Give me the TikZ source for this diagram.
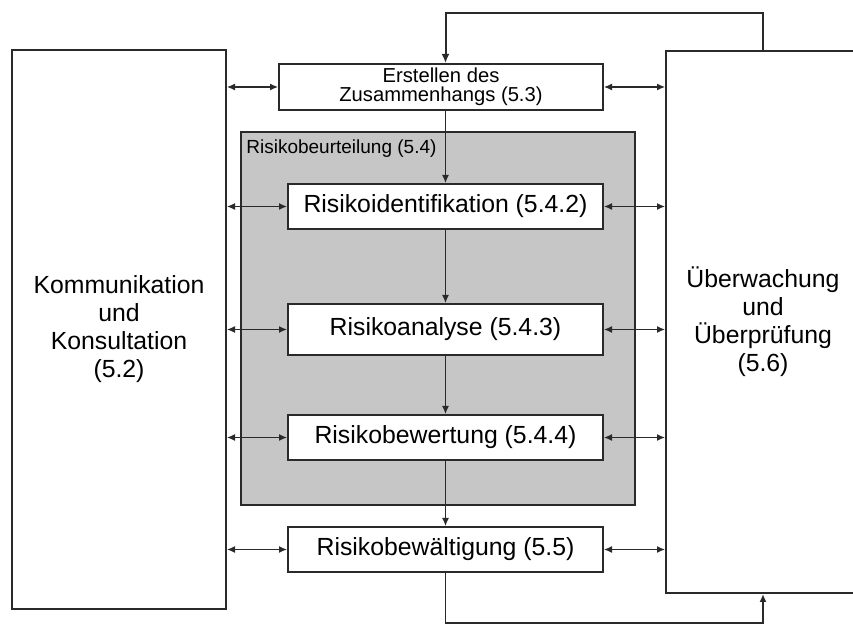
\documentclass[tikz,border=0pt]{standalone}
\usepackage{fontspec}
\setmainfont{Liberation Sans}
\usetikzlibrary{arrows.meta,positioning}
\definecolor{boxgray}{HTML}{C6C6C6}
\definecolor{edge}{HTML}{2A2A2A}
\tikzset{
  box/.style={draw=edge,line width=1pt,fill=white,align=center,inner sep=2pt,
    font=\fontsize{12.4}{14}\selectfont},
  stagebox/.style={box,minimum width=157.5pt,minimum height=22.5pt},
  link/.style={draw=edge,line width=0.6pt,-{Latex[length=4pt,width=3.5pt]}},
  dlink/.style={link,{Latex[length=4pt,width=3.5pt]}-{Latex[length=4pt,width=3.5pt]}},
  loop/.style={draw=edge,line width=1pt,-{Latex[length=4.5pt,width=4pt]}}
}
\begin{document}
\begin{tikzpicture}[x=0.5pt,y=-0.5pt]
  \clip (0,0) rectangle (853,624);
  \fill[white] (0,0) rectangle (853,624);
  \node[box,minimum width=107pt,minimum height=279.5pt] (komm) at (119,329.5) {Kommunikation\\und\\Konsultation\\(5.2)};
  \node[box,minimum width=97pt,minimum height=271pt] (ueber) at (763,322) {Überwachung\\und\\Überprüfung\\(5.6)};
  \node[box,minimum width=162pt,minimum height=22pt,font=\fontsize{10.1}{9.6}\selectfont] (ctx) at (441,87) {Erstellen des\\Zusammenhangs (5.3)};
  \node[box,fill=boxgray,minimum width=197pt,minimum height=186.5pt] (beurt) at (438,318.5) {};
  \node[anchor=north west,inner sep=0pt,font=\fontsize{9.5}{11}\selectfont] (beurtlabel) at ([xshift=3pt,yshift=-4pt]beurt.north west) {Risikobeurteilung (5.4)};
  \node[stagebox] (ident) at (445.5,206.5) {Risikoidentifikation (5.4.2)};
  \node[stagebox,minimum height=25.5pt] (anal) at (445.5,329.5) {Risikoanalyse (5.4.3)};
  \node[stagebox] (bewert) at (445.5,437.5) {Risikobewertung (5.4.4)};
  \node[stagebox] (bewael) at (445.5,549.5) {Risikobewältigung (5.5)};
  \coordinate (topline) at (445.5,13);
  \coordinate (botline) at (445.5,623);
  \draw[link] (ctx.south -| ident.north) -- (ident.north);
  \foreach \a/\b in {ident/anal,anal/bewert,bewert/bewael} {\draw[link] (\a.south) -- (\b.north);}
  \foreach \n in {ctx,ident,anal,bewert,bewael} {
    \draw[dlink] (komm.east |- \n.west) -- (\n.west);
    \draw[dlink] (\n.east) -- (ueber.west |- \n.east);
  }
  \draw[loop] (ueber.north) |- (topline) -- (topline |- ctx.north);
  \draw[link,line width=0.8pt] (bewael.south) |- (ueber.south |- botline) -- (ueber.south);
\end{tikzpicture}
\end{document}
